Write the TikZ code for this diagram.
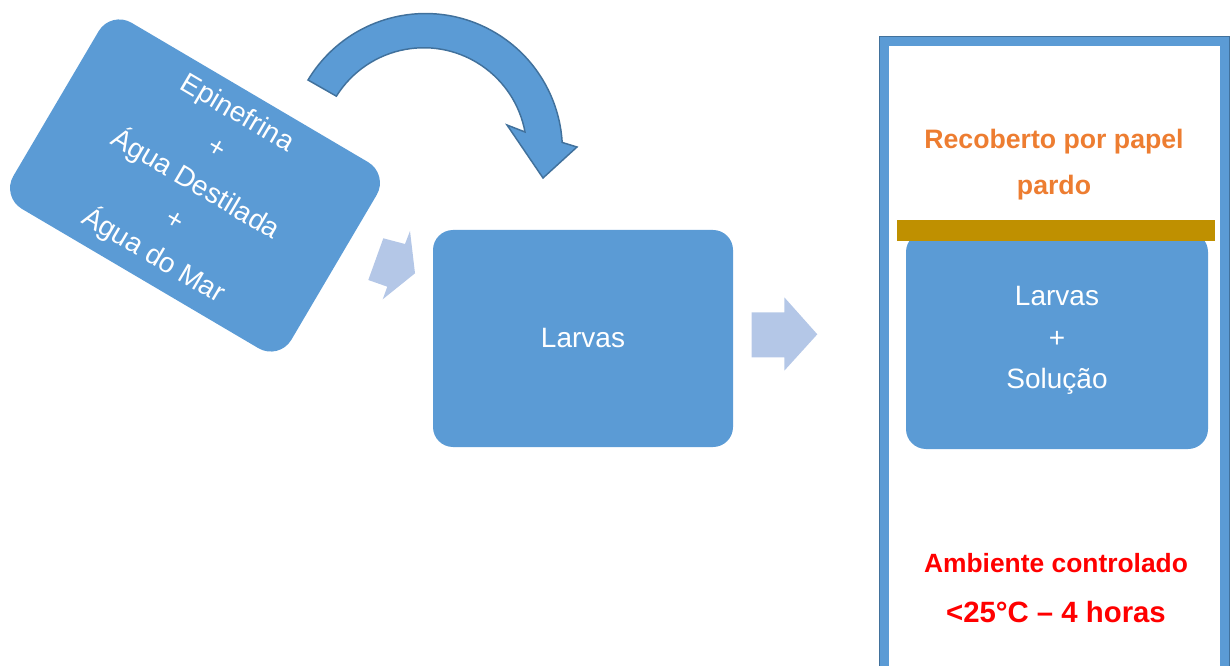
\documentclass[tikz,border=0pt]{standalone}
\usepackage{fontspec}
\setmainfont{Liberation Sans}
\usepackage{xcolor}
\usepackage{tikz}
\usetikzlibrary{positioning}
\definecolor{smblue}{HTML}{5B9BD5}
\definecolor{smedge}{HTML}{41719C}
\definecolor{smlight}{HTML}{B4C7E7}
\definecolor{paperbrown}{HTML}{BF9000}
\definecolor{noteorange}{HTML}{ED7D31}
\definecolor{notered}{HTML}{FF0000}

\begin{document}
\begin{tikzpicture}[
  x=0.75pt, y=-0.75pt,
  box/.style={fill=smblue, rounded corners=15pt, text=white, align=center,
              font=\fontsize{21}{31}\selectfont, inner sep=0pt},
  blockarrow/.style={fill=smlight},
  bentarrow/.style={fill=smblue, draw=smedge, line width=1.1pt, line join=miter},
  note/.style={font=\bfseries\fontsize{20}{34.5}\selectfont, align=center}
]
  \useasboundingbox (0,0) rectangle (1230,666);
  \clip (0,0) rectangle (1230,666);

  \filldraw[bentarrow] (308,80) arc[start angle=-149, end angle=-3.4, radius=137]
    -- (577,147) -- (543,178) -- (507,125) -- (525,132)
    arc[start angle=-10.5, end angle=-148, radius=103] -- cycle;
  \fill[blockarrow] (383.3,238.3) -- (405,244) -- (410,231) -- (415,273.3)
    -- (382.7,299.3) -- (387.3,286.7) -- (368.3,280) -- cycle;
  \fill[blockarrow] (751.7,312.3) -- (784.3,312.3) -- (784.3,297.3) -- (817.3,334.3)
    -- (784.3,370.7) -- (784.3,357.3) -- (751.7,357.3) -- cycle;

  \node[box, rotate=-30.5, minimum width=242pt, minimum height=162pt,
        rounded corners=18pt] (mix) at (195,185.5)
        {Epinefrina\\+\\Água Destilada\\+\\Água do Mar};
  \node[box, minimum width=225pt, minimum height=162.75pt] (larvas) at (583,338.5) {Larvas};

  \draw[smblue, line width=7.5pt] (883.5,41) rectangle (1225,690);
  \draw[smedge, line width=0.6pt] (879,36.5) rectangle (1229.5,700);
  \node[box, minimum width=226.5pt, minimum height=162.75pt] (pote) at (1057,340.5)
        {\raisebox{-1.5pt}{\parbox{220pt}{\centering Larvas\\+\\Solução}}};
  \node[fill=paperbrown, minimum width=238.7pt, minimum height=15.5pt,
        inner sep=0pt] (papel) at (1055.9,230.35) {};

  \node[note, text=noteorange] (cobre) at (1054,165) {Recoberto por papel\\pardo};
  \node[font=\bfseries\fontsize{19.8}{24}\selectfont, text=notered] (ambiente)
        at (1056,563) {Ambiente controlado};
  \node[font=\bfseries\fontsize{22}{26}\selectfont, text=notered] (tempo)
        at (1056,612) {<25°C \textendash{} 4 horas};
\end{tikzpicture}
\end{document}
